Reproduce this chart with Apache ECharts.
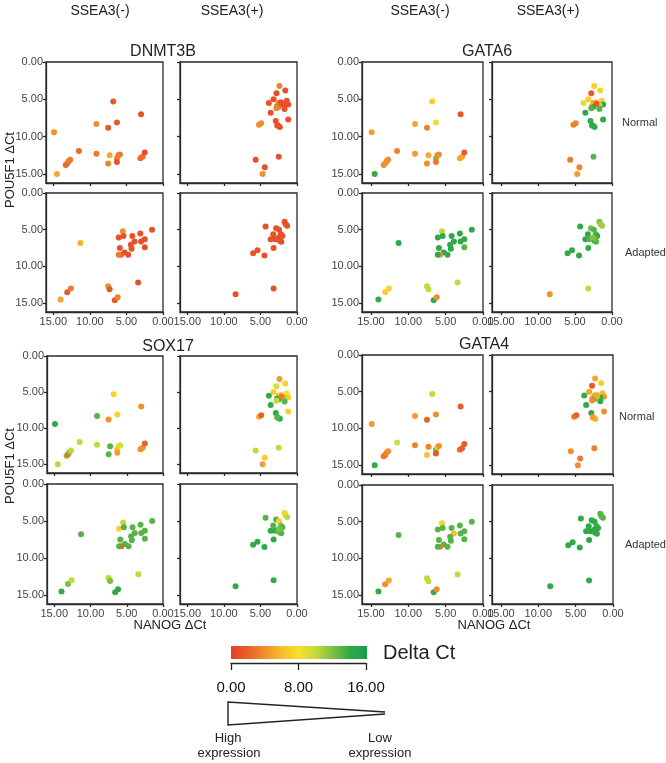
<!DOCTYPE html>
<html><head><meta charset="utf-8">
<script src="https://cdn.jsdelivr.net/npm/echarts@6/dist/echarts.min.js"></script>
<style>html,body{margin:0;padding:0;background:#fff}#c{width:666px;height:763px}</style>
</head><body><div id="c"></div>
<script>
// ---- data: [NANOG dCt, POU5F1 dCt] per cell population ----
const posNormalNeg = [[14.9,9.4],[14.5,15.0],[13.3,13.8],[13.1,13.6],[12.9,13.3],[12.7,13.1],[11.5,11.9],[9.1,8.3],[9.1,12.3],[7.5,8.8],[7.3,12.5],[7.5,13.6],[6.8,5.3],[6.3,8.1],[6.3,12.9],[6.1,12.5],[5.9,12.4],[6.3,13.4],[3.0,7.0],[3.1,12.9],[2.8,12.7],[2.5,12.1]];
const posNormalPos = [[2.4,3.2],[1.6,3.8],[2.8,4.2],[3.2,5.0],[3.85,5.5],[2.5,5.5],[2.2,5.4],[2.75,5.9],[2.5,6.0],[2.8,6.2],[1.4,5.2],[1.2,5.7],[1.7,5.8],[1.7,6.3],[2.1,5.6],[3.6,6.8],[1.2,7.7],[2.9,7.9],[2.6,8.5],[2.35,8.7],[2.7,8.5],[5.2,8.4],[4.9,8.2],[5.65,13.1],[2.5,12.7],[4.4,14.1],[4.7,15.0]];
const posAdaptedNeg = [[14.0,14.5],[13.1,13.5],[12.6,13.0],[11.3,6.8],[7.5,12.7],[7.3,13.1],[6.6,14.6],[6.2,14.2],[3.4,12.2],[5.5,5.2],[6.05,6.05],[5.4,5.85],[4.2,5.85],[3.1,5.5],[1.5,5.0],[2.5,6.3],[3.0,6.6],[3.9,6.6],[4.4,7.05],[4.3,7.6],[5.9,7.5],[5.25,8.1],[4.75,8.4],[5.75,8.4],[6.05,8.4],[2.5,7.4]];
const posAdaptedPos = [[4.3,4.55],[2.85,4.8],[2.45,5.0],[3.25,5.6],[2.2,5.6],[2.0,5.85],[3.6,6.3],[3.0,6.3],[2.6,6.3],[2.35,6.5],[2.15,6.65],[2.5,6.1],[1.7,3.9],[1.55,4.25],[1.35,4.45],[3.2,7.5],[4.45,8.5],[5.4,7.8],[6.0,8.2],[3.2,13.0],[8.4,13.8]];

// ---- gene delta Ct (colour) per point ----
const dnmt3bNormalNeg = [4,5,2.5,2.5,3,3,2.5,4,3,1.5,5,3.5,1.5,1.5,3.5,3,3,1,1,2.5,2.5,1];
const dnmt3bNormalPos = [3.5,1,1,1,1,3.5,1,3.5,3,3.5,1,1,1,1,1,1,1,1,1,1,1,4,4,1,1,1,4];
const dnmt3bAdaptedNeg = [5,1.5,3,5.5,4,1.5,1.5,3.5,1,4,1,1,1,1,1,1,1,1,1,1,1,1,1,1.5,3,1];
const dnmt3bAdaptedPos = [1,1,1,1,1,1,1,1,1,1,1,1,1,1,1,1,1,1,1,1,1];

const gata6NormalNeg = [4.5,14,4,4,4,4,3.5,5,4.5,3.5,5,4,7,8.5,12,4,4,3,1.5,5,5,1.5];
const gata6NormalPos = [7,7.5,1.5,7,9,4,6.5,7,14,13,7,14,10,13,1.5,14,14,14,14,14,14,3.5,3.5,3,13,3.5,4.5];
const gata6AdaptedNeg = [14,7,7,14,10,10,14,4,10,10,14,14,14,14,14,14,14,14,14,14,14,14,14,4,14,13];
const gata6AdaptedPos = [14,12,13,14,13,14,14,13,12,14,13,12,12,11,11,14,14,14,14,10,4];

const sox17NormalNeg = [14,10,4,13,4,10,10,13,10,4,13,13,7,7,6,9,9,4.5,4,4,4,2];
const sox17NormalPos = [4.5,7,9,7,14,6,7,13,14,10,8,7,10,13,3,14,7,14,14,14,13,5.5,2,10,10,7,4.5];
const sox17AdaptedNeg = [14,12,10,13,10,12,14,14,10,10,7,13,13,13,13,13,13,13,13,13,13,13,13,2,13,13];
const sox17AdaptedPos = [13,13,7,13,12,13,14,14,13,13,13,12,7,9,10,14,14,14,14,14,14];

const gata4NormalNeg = [4.5,14,3,3,3.5,4,9.5,4.5,3.5,2,3.5,6.5,10,4,12,7,4,1.5,1.5,2.5,2,1.5];
const gata4NormalPos = [5,7,1.5,5,14,5,6,5,13,4,6,4.5,14,14,5,14,4,14,6,6,4.5,3,2,4,3.5,3,4];
const gata4AdaptedNeg = [14,4,5,13,10,10,14,4,10,7,13,13,13,13,13,13,13,6,13,13,13,13,13,3,13,13];
const gata4AdaptedPos = [14,14,14,14,14,14,14,14,14,14,14,14,13,13,13,14,14,14,14,14,14];

const geneNames = ['DNMT3B','GATA6','SOX17','GATA4'];
const columnLabels = ['SSEA3(-)','SSEA3(+)'];
const rowLabels = ['Normal','Adapted'];
const axisTicks = [0,5,10,15];
const scaleTicks = [0,8,16];

// ---- layout / style ----
const FONT = '"Liberation Sans", Arial, sans-serif';
const groupBoxes = [
  {cols:[[46,117],[180,117]], rows:[[62,121],[193,119]], xMax:16.0},
  {cols:[[362,121],[492,120]], rows:[[62,121],[193,119]], xMax:16.2},
  {cols:[[47,116],[180,117]], rows:[[356,117],[484,120]], xMax:16.0},
  {cols:[[362,121],[492,121]], rows:[[355,119],[485,119]], xMax:16.2}
];
const Y_MAX = 16.2;
const colorStops = ['#e5402a','#ea6029','#f18f2d','#f7bd2d','#f8e02c','#c2d93a','#7bbf43','#30a948','#15a04a'];

const panelDefs = [
  [0,0,0,posNormalNeg,dnmt3bNormalNeg],[0,1,0,posNormalPos,dnmt3bNormalPos],[0,0,1,posAdaptedNeg,dnmt3bAdaptedNeg],[0,1,1,posAdaptedPos,dnmt3bAdaptedPos],
  [1,0,0,posNormalNeg,gata6NormalNeg],[1,1,0,posNormalPos,gata6NormalPos],[1,0,1,posAdaptedNeg,gata6AdaptedNeg],[1,1,1,posAdaptedPos,gata6AdaptedPos],
  [2,0,0,posNormalNeg,sox17NormalNeg],[2,1,0,posNormalPos,sox17NormalPos],[2,0,1,posAdaptedNeg,sox17AdaptedNeg],[2,1,1,posAdaptedPos,sox17AdaptedPos],
  [3,0,0,posNormalNeg,gata4NormalNeg],[3,1,0,posNormalPos,gata4NormalPos],[3,0,1,posAdaptedNeg,gata4AdaptedNeg],[3,1,1,posAdaptedPos,gata4AdaptedPos]
];

const grids=[], xAxes=[], yAxes=[], series=[];
const fmt = v => (Math.abs(v % 5) < 1e-9 ? v.toFixed(2) : '');
panelDefs.forEach((p,i)=>{
  const [g,c,r,pos,col] = p;
  const gb = groupBoxes[g];
  grids.push({left:gb.cols[c][0], width:gb.cols[c][1], top:gb.rows[r][0], height:gb.rows[r][1],
    show:true, borderColor:'#2a2a2a', borderWidth:1.3, backgroundColor:'#fff'});
  xAxes.push({type:'value', gridIndex:i, min:0, max:gb.xMax, inverse:true,
    axisLine:{show:true, onZero:false, lineStyle:{color:'#2a2a2a', width:1.3}},
    axisTick:{show:true, length:3, customValues:axisTicks, lineStyle:{color:'#2a2a2a', width:1.3}},
    axisLabel:{show:r===1, customValues:axisTicks, formatter:fmt, fontSize:11, color:'#444', fontFamily:FONT, margin:4},
    splitLine:{show:false}});
  yAxes.push({type:'value', gridIndex:i, min:0, max:Y_MAX, inverse:true,
    axisLine:{show:true, onZero:false, lineStyle:{color:'#2a2a2a', width:1.3}},
    axisTick:{show:true, length:3, customValues:axisTicks, lineStyle:{color:'#2a2a2a', width:1.3}},
    axisLabel:{show:c===0, customValues:axisTicks, formatter:fmt, fontSize:11, color:'#444', fontFamily:FONT, margin:3},
    splitLine:{show:false}});
  series.push({type:'scatter', xAxisIndex:i, yAxisIndex:i, symbolSize:6, silent:true,
    itemStyle:{opacity:1}, data: pos.map((q,k)=>[q[0],q[1],col[k]])});
});

// scale legend axis (0 - 16 delta Ct)
grids.push({left:231, width:135, top:662, height:1, show:false});
xAxes.push({type:'value', gridIndex:16, min:0, max:16, interval:8, position:'bottom',
  axisLine:{show:true, lineStyle:{color:'#222', width:1.3}},
  axisTick:{show:true, length:7, customValues:scaleTicks, lineStyle:{color:'#222', width:1.3}},
  axisLabel:{customValues:scaleTicks, formatter:v=>v.toFixed(2), fontSize:15, color:'#111', fontFamily:FONT, margin:17},
  splitLine:{show:false}});
yAxes.push({type:'value', gridIndex:16, show:false});

const gfx = [];
function T(x,y,s,size,opts){ gfx.push({type:'text', x:x, y:y, silent:true,
  style:Object.assign({text:s, fontSize:size, fontFamily:FONT, fill:'#222', textAlign:'center', textVerticalAlign:'middle'}, opts||{})}); }
T(100,11,columnLabels[0],14); T(232,11,columnLabels[1],14);
T(420,11,columnLabels[0],14); T(548,11,columnLabels[1],14);
T(163,52,geneNames[0],16); T(487,52,geneNames[1],16);
T(168,347,geneNames[2],16); T(484,345,geneNames[3],16);
T(622,123,rowLabels[0],11,{textAlign:'left', fill:'#333'});
T(625,253,rowLabels[1],11,{textAlign:'left', fill:'#333'});
T(619,417,rowLabels[0],11,{textAlign:'left', fill:'#333'});
T(625,545,rowLabels[1],11,{textAlign:'left', fill:'#333'});
[170,466].forEach(cy=>{
  gfx.push({type:'text', x:10, y:cy, rotation:Math.PI/2, silent:true,
    style:{text:'POU5F1 ΔCt', fontSize:13, fontFamily:FONT, fill:'#222', textAlign:'center', textVerticalAlign:'middle'}});
});
T(170,625,'NANOG ΔCt',13); T(494,625,'NANOG ΔCt',13);

// colour bar
gfx.push({type:'rect', shape:{x:231, y:646, width:136, height:13}, silent:true,
  style:{fill:new echarts.graphic.LinearGradient(0,0,1,0, colorStops.map((c,k)=>({offset:k/(colorStops.length-1), color:c})))}});
T(383,653,'Delta Ct',20,{textAlign:'left'});
// expression triangle
gfx.push({type:'polyline', silent:true, shape:{points:[[385,712],[228,702],[228,725],[385,714]]}, style:{stroke:'#222', lineWidth:1.4, fill:null}});
T(228,738,'High',13); T(229,753,'expression',13);
T(380,738,'Low',13); T(380,753,'expression',13);

const chart = echarts.init(document.getElementById('c'), null, {renderer:'canvas'});
chart.setOption({
  animation:false,
  backgroundColor:'#fff',
  grid:grids, xAxis:xAxes, yAxis:yAxes, series:series,
  visualMap:{type:'continuous', show:false, min:0, max:16, dimension:2, seriesIndex:series.map((s,i)=>i), inRange:{color:colorStops}},
  graphic:gfx
});
</script></body></html>
